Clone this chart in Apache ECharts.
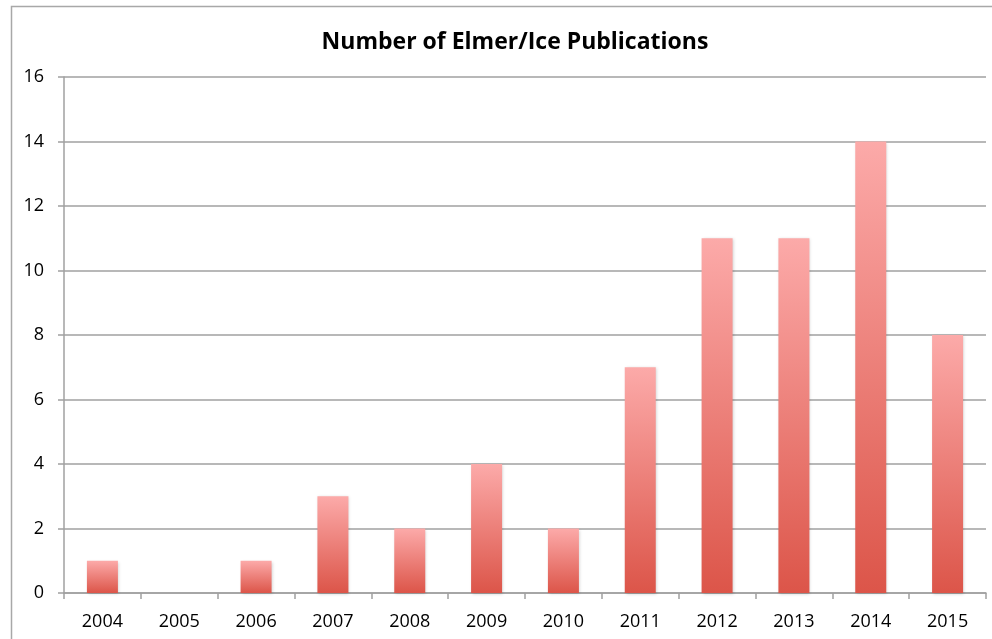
<!DOCTYPE html>
<html><head><meta charset="utf-8">
<script src="https://cdn.jsdelivr.net/npm/echarts@6/dist/echarts.min.js"></script>
<style>html,body{margin:0;padding:0;background:#fff}#c{width:992px;height:639px}</style>
</head><body><div id="c"></div>
<script>
const categories = ['2004','2005','2006','2007','2008','2009','2010','2011','2012','2013','2014','2015'];
const publications = [1,0,1,3,2,4,2,7,11,11,14,8];
const yTicks = {min:0, max:16, interval:2};

const chart = echarts.init(document.getElementById('c'));
chart.setOption({
  animation:false,
  backgroundColor:'#fff',
  title:{text:'Number of Elmer/Ice Publications', left:510, top:26, textAlign:'center',
    textStyle:{fontFamily:'Open Sans', fontWeight:'bold', fontSize:23, color:'#000'}},
  graphic:[{type:'rect', shape:{x:11.5,y:6.5,width:1100,height:800}, style:{fill:'none', stroke:'#a8a8a8', lineWidth:1.5}}],
  grid:{left:64, right:6, top:77, bottom:46, containLabel:false},
  xAxis:{type:'category', data:categories,
    axisLine:{lineStyle:{color:'#a0a0a0', width:1.5}},
    axisTick:{show:true, length:6, lineStyle:{color:'#a0a0a0', width:1.5}},
    axisLabel:{color:'#000', fontFamily:'Open Sans', fontSize:18, margin:20}},
  yAxis:{type:'value', min:yTicks.min, max:yTicks.max, interval:yTicks.interval,
    axisLine:{show:true, lineStyle:{color:'#a0a0a0', width:1.5}},
    axisTick:{show:true, length:6, lineStyle:{color:'#a0a0a0', width:1.5}},
    splitLine:{lineStyle:{color:'#a0a0a0', width:1.5}},
    axisLabel:{color:'#000', fontFamily:'Open Sans', fontSize:18, margin:20}},
  series:[{type:'bar', data:publications, barWidth:31,
    itemStyle:{color:new echarts.graphic.LinearGradient(0,0,0,1,[{offset:0,color:'#fcaaa9'},{offset:1,color:'#dc5549'}]),
      shadowColor:'rgba(0,0,0,0.18)', shadowBlur:3, shadowOffsetX:1, shadowOffsetY:1}}]
});
</script></body></html>
